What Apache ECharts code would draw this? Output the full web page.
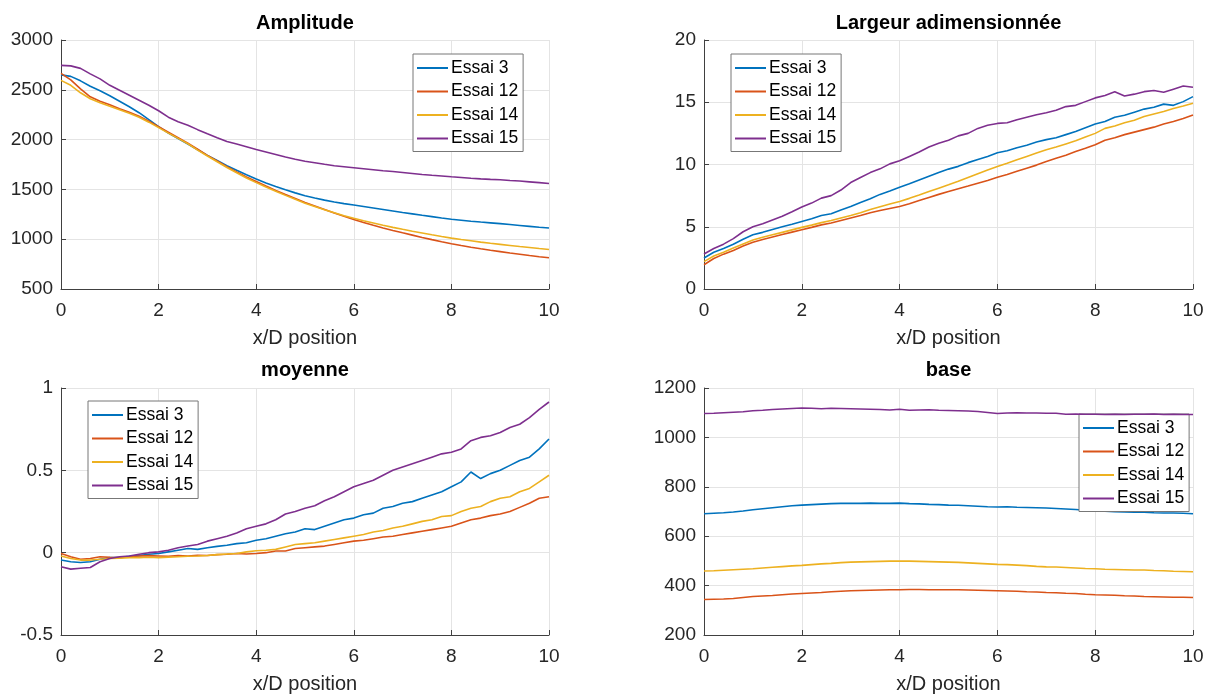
<!DOCTYPE html>
<html>
<head>
<meta charset="utf-8">
<script src="https://cdn.jsdelivr.net/npm/echarts@6/dist/echarts.min.js"></script>
<style>
  html, body { margin: 0; padding: 0; background: #fff; }
  #chart { width: 1212px; height: 695px; }
</style>
</head>
<body>
<div id="chart"></div>
<script>
// x/D stations shared by every trace
const xPos = [0, 0.2, 0.4, 0.6, 0.8, 1.0, 1.2, 1.4, 1.6, 1.8, 2.0, 2.2, 2.4, 2.6, 2.8, 3.0, 3.2, 3.4, 3.6, 3.8,
  4.0, 4.2, 4.4, 4.6, 4.8, 5.0, 5.2, 5.4, 5.6, 5.8, 6.0, 6.2, 6.4, 6.6, 6.8, 7.0, 7.2, 7.4, 7.6, 7.8,
  8.0, 8.2, 8.4, 8.6, 8.8, 9.0, 9.2, 9.4, 9.6, 9.8, 10.0];

const trialNames = ['Essai 3', 'Essai 12', 'Essai 14', 'Essai 15'];
const trialColors = ['#0072BD', '#D95319', '#EDB120', '#7E2F8E'];

const panelTitles = ['Amplitude', 'Largeur adimensionnée', 'moyenne', 'base'];
const xLabel = 'x/D position';

// Amplitude
const amp3 = [2650, 2635, 2590, 2535, 2490, 2440, 2385, 2330, 2270, 2200, 2130, 2065, 2010, 1955, 1898, 1842, 1790, 1738, 1692, 1648,
  1605, 1565, 1528, 1496, 1465, 1437, 1413, 1392, 1373, 1357, 1343, 1328, 1313, 1298, 1283, 1268, 1254, 1240, 1227, 1213,
  1200, 1191, 1181, 1172, 1164, 1156, 1147, 1138, 1129, 1120, 1112];
const amp12 = [2665, 2600, 2510, 2430, 2385, 2350, 2310, 2275, 2235, 2185, 2130, 2075, 2020, 1965, 1905, 1842, 1785, 1728, 1675, 1625,
  1580, 1534, 1490, 1448, 1408, 1368, 1333, 1298, 1263, 1230, 1198, 1168, 1140, 1113, 1088, 1064, 1041, 1018, 996, 975,
  955, 937, 920, 904, 889, 875, 861, 849, 836, 824, 813];
const amp14 = [2595, 2545, 2470, 2410, 2370, 2335, 2300, 2265, 2225, 2175, 2120, 2065, 2012, 1958, 1895, 1835, 1778, 1720, 1667, 1615,
  1568, 1524, 1482, 1440, 1400, 1362, 1328, 1295, 1265, 1236, 1210, 1186, 1163, 1140, 1119, 1099, 1080, 1062, 1044, 1027,
  1011, 997, 984, 971, 959, 948, 937, 926, 916, 906, 897];
const amp15 = [2745, 2740, 2715, 2660, 2610, 2545, 2495, 2445, 2395, 2345, 2290, 2225, 2180, 2145, 2100, 2058, 2018, 1980, 1955, 1928,
  1900, 1875, 1850, 1825, 1803, 1782, 1768, 1752, 1738, 1728, 1718, 1708, 1698, 1688, 1680, 1670, 1660, 1650, 1642, 1635,
  1627, 1620, 1612, 1606, 1601, 1597, 1590, 1584, 1576, 1568, 1560];

// Largeur adimensionnée
const larg3 = [2.49, 2.95, 3.25, 3.6, 4.0, 4.35, 4.55, 4.78, 5.0, 5.2, 5.43, 5.65, 5.9, 6.05, 6.35, 6.63, 6.95, 7.25, 7.6, 7.88,
  8.18, 8.45, 8.75, 9.05, 9.35, 9.63, 9.85, 10.15, 10.4, 10.65, 10.95, 11.1, 11.35, 11.55, 11.8, 12.0, 12.15, 12.4, 12.65, 12.95,
  13.25, 13.45, 13.8, 13.95, 14.2, 14.45, 14.6, 14.85, 14.75, 15.05, 15.45];
const larg12 = [1.95, 2.45, 2.8, 3.1, 3.45, 3.75, 3.98, 4.18, 4.38, 4.57, 4.76, 4.95, 5.15, 5.3, 5.5, 5.7, 5.9, 6.12, 6.3, 6.47,
  6.63, 6.85, 7.1, 7.35, 7.6, 7.83, 8.05, 8.27, 8.5, 8.72, 8.98, 9.2, 9.45, 9.7, 9.95, 10.24, 10.5, 10.75, 11.05, 11.3,
  11.58, 11.95, 12.15, 12.4, 12.6, 12.8, 13.0, 13.25, 13.45, 13.7, 13.98];
const larg14 = [2.2, 2.65, 2.95, 3.3, 3.62, 3.93, 4.15, 4.35, 4.55, 4.75, 4.95, 5.13, 5.33, 5.5, 5.7, 5.9, 6.12, 6.38, 6.6, 6.82,
  7.03, 7.28, 7.55, 7.83, 8.1, 8.37, 8.65, 8.95, 9.25, 9.55, 9.84, 10.1, 10.38, 10.65, 10.92, 11.18, 11.4, 11.65, 11.9, 12.2,
  12.5, 12.9, 13.1, 13.35, 13.55, 13.85, 14.05, 14.25, 14.5, 14.7, 14.92];
const larg15 = [2.81, 3.25, 3.6, 4.05, 4.6, 5.0, 5.25, 5.55, 5.85, 6.2, 6.58, 6.9, 7.3, 7.5, 7.95, 8.55, 8.95, 9.35, 9.65, 10.05,
  10.3, 10.65, 11.0, 11.4, 11.7, 11.95, 12.3, 12.5, 12.9, 13.15, 13.3, 13.35, 13.6, 13.8, 14.0, 14.15, 14.35, 14.65, 14.75, 15.05,
  15.35, 15.55, 15.85, 15.5, 15.65, 15.85, 15.95, 15.8, 16.05, 16.3, 16.2];

// moyenne
const moy3 = [-0.045, -0.055, -0.06, -0.055, -0.04, -0.03, -0.03, -0.022, -0.018, -0.01, -0.005, 0.005, 0.015, 0.025, 0.02, 0.03, 0.038, 0.045, 0.055, 0.06,
  0.075, 0.085, 0.1, 0.115, 0.125, 0.145, 0.14, 0.16, 0.18, 0.2, 0.21, 0.23, 0.24, 0.27, 0.28, 0.3, 0.31, 0.33, 0.35, 0.37,
  0.4, 0.43, 0.49, 0.45, 0.48, 0.5, 0.53, 0.56, 0.58, 0.63, 0.69];
const moy12 = [-0.005, -0.025, -0.04, -0.035, -0.025, -0.028, -0.03, -0.025, -0.02, -0.018, -0.02, -0.022, -0.018, -0.02, -0.016, -0.017, -0.012, -0.01, -0.005, -0.008,
  -0.005, 0.0, 0.01, 0.01, 0.025, 0.03, 0.035, 0.04, 0.05, 0.06, 0.07, 0.075, 0.085, 0.095, 0.1, 0.11, 0.12, 0.13, 0.14, 0.15,
  0.16, 0.18, 0.2, 0.21, 0.225, 0.235, 0.25, 0.275, 0.3, 0.33, 0.34];
const moy14 = [-0.02, -0.035, -0.045, -0.045, -0.04, -0.035, -0.033, -0.03, -0.03, -0.028, -0.03, -0.027, -0.025, -0.022, -0.02, -0.017, -0.012, -0.008, -0.005, 0.005,
  0.012, 0.015, 0.02, 0.035, 0.05, 0.055, 0.06, 0.07, 0.08, 0.09, 0.1, 0.11, 0.125, 0.135, 0.15, 0.16, 0.175, 0.19, 0.2, 0.22,
  0.225, 0.25, 0.27, 0.28, 0.31, 0.33, 0.34, 0.37, 0.39, 0.43, 0.47];
const moy15 = [-0.085, -0.1, -0.095, -0.09, -0.055, -0.035, -0.025, -0.02, -0.01, 0.0, 0.005, 0.015, 0.03, 0.04, 0.05, 0.07, 0.085, 0.1, 0.12, 0.145,
  0.16, 0.175, 0.2, 0.235, 0.25, 0.27, 0.285, 0.315, 0.34, 0.37, 0.4, 0.42, 0.44, 0.47, 0.5, 0.52, 0.54, 0.56, 0.58, 0.6,
  0.61, 0.63, 0.68, 0.7, 0.71, 0.73, 0.76, 0.78, 0.82, 0.87, 0.915];

// base
const base3 = [691, 693, 695, 698, 702, 707, 711, 715, 719, 723, 726, 728, 730, 732, 733, 733, 733, 734, 733, 733,
  734, 732, 731, 729, 728, 726, 725, 723, 721, 719, 718, 719, 717, 716, 715, 714, 712, 710, 708, 705,
  703, 701, 699, 698, 697, 697, 695, 694, 694, 693, 691];
const base12 = [344, 345, 346, 348, 352, 356, 358, 360, 363, 366, 368, 370, 372, 375, 377, 379, 380, 381, 382, 383,
  383, 384, 384, 383, 383, 383, 383, 382, 381, 380, 379, 378, 377, 375, 374, 372, 371, 369, 368, 365,
  363, 362, 361, 359, 358, 356, 355, 354, 353, 353, 352];
const base14 = [459, 460, 462, 464, 466, 468, 471, 474, 477, 480, 482, 485, 488, 490, 493, 495, 496, 497, 498, 499,
  499, 499, 498, 497, 496, 495, 494, 492, 490, 488, 486, 485, 483, 481, 478, 476, 475, 473, 471, 469,
  468, 466, 465, 464, 463, 463, 461, 460, 458, 457, 456];
const base15 = [1097, 1098, 1100, 1102, 1104, 1108, 1110, 1113, 1115, 1117, 1119, 1118, 1116, 1118, 1117, 1116, 1115, 1114, 1113, 1111,
  1114, 1110, 1111, 1112, 1110, 1109, 1108, 1107, 1105, 1101, 1097, 1099, 1100, 1099, 1099, 1098, 1098, 1094, 1095, 1094,
  1094, 1093, 1094, 1093, 1094, 1094, 1095, 1093, 1094, 1093, 1093];

// y-axis ranges per panel: [min, max, interval]
const yRanges = [[500, 3000, 500], [0, 20, 5], [-0.5, 1, 0.5], [200, 1200, 200]];
const xRange = [0, 10, 2];

const panelData = [
  [amp3, amp12, amp14, amp15],
  [larg3, larg12, larg14, larg15],
  [moy3, moy12, moy14, moy15],
  [base3, base12, base14, base15]
];

const FONT = "'Liberation Sans', Arial, Helvetica, sans-serif";
const AXIS_COLOR = '#404040';
const TEXT_COLOR = '#262626';

const grids = [
  { left: 61, top: 40, width: 488, height: 249 },
  { left: 704, top: 40, width: 489, height: 249 },
  { left: 61, top: 388, width: 488, height: 248 },
  { left: 704, top: 388, width: 489, height: 248 }
];
const titlePos = [
  { left: 305, top: 13 }, { left: 948.5, top: 13 },
  { left: 305, top: 360 }, { left: 948.5, top: 360 }
];
const legendPos = [
  { left: 413, top: 54 }, { left: 731, top: 54 },
  { left: 88, top: 401 }, { left: 1079, top: 414 }
];

const chart = echarts.init(document.getElementById('chart'), null, { renderer: 'canvas' });

const option = {
  animation: false,
  backgroundColor: '#ffffff',
  textStyle: { fontFamily: FONT },
  title: panelTitles.map((t, i) => ({
    text: t,
    left: titlePos[i].left,
    top: titlePos[i].top,
    textAlign: 'center',
    padding: 0,
    textStyle: { fontFamily: FONT, fontSize: 20, fontWeight: 'bold', color: '#000' }
  })),
  grid: grids.map(g => Object.assign({ containLabel: false }, g)),
  legend: legendPos.map(p => ({
    data: trialNames,
    orient: 'vertical',
    left: p.left,
    top: p.top,
    padding: [5, 5, 4, 4],
    itemGap: 5.5,
    itemWidth: 31,
    itemHeight: 2,
    icon: 'rect',
    backgroundColor: '#ffffff',
    borderColor: '#777777',
    borderWidth: 1,
    selectedMode: false,
    textStyle: { fontFamily: FONT, fontSize: 17.5, color: '#000', padding: [0, 0, 0, -2] }
  })),
  xAxis: grids.map((g, i) => ({
    type: 'value',
    gridIndex: i,
    min: xRange[0],
    max: xRange[1],
    interval: xRange[2],
    name: xLabel,
    nameLocation: 'middle',
    nameGap: 39,
    nameTextStyle: { fontFamily: FONT, fontSize: 20, color: TEXT_COLOR },
    axisLine: { show: true, onZero: false, lineStyle: { color: AXIS_COLOR, width: 1 } },
    axisTick: { show: true, inside: true, length: 5, lineStyle: { color: AXIS_COLOR } },
    axisLabel: { margin: 12, fontFamily: FONT, fontSize: 19, color: TEXT_COLOR, formatter: v => String(v) },
    splitLine: { show: true, lineStyle: { color: '#e4e4e4', width: 1 } }
  })),
  yAxis: yRanges.map((r, i) => ({
    type: 'value',
    gridIndex: i,
    min: r[0],
    max: r[1],
    interval: r[2],
    axisLine: { show: true, onZero: false, lineStyle: { color: AXIS_COLOR, width: 1 } },
    axisTick: { show: true, inside: true, length: 5, lineStyle: { color: AXIS_COLOR } },
    axisLabel: { margin: 8, fontFamily: FONT, fontSize: 19, color: TEXT_COLOR, formatter: v => String(v) },
    splitLine: { show: true, lineStyle: { color: '#e4e4e4', width: 1 } }
  })),
  series: []
};

panelData.forEach((traces, p) => {
  traces.forEach((vals, k) => {
    option.series.push({
      type: 'line',
      name: trialNames[k],
      xAxisIndex: p,
      yAxisIndex: p,
      data: xPos.map((x, j) => [x, vals[j]]),
      symbol: 'none',
      showSymbol: false,
      color: trialColors[k],
      lineStyle: { color: trialColors[k], width: 1.6 },
      emphasis: { disabled: true },
      z: 2 + k
    });
  });
});

chart.setOption(option);
</script>
</body>
</html>
